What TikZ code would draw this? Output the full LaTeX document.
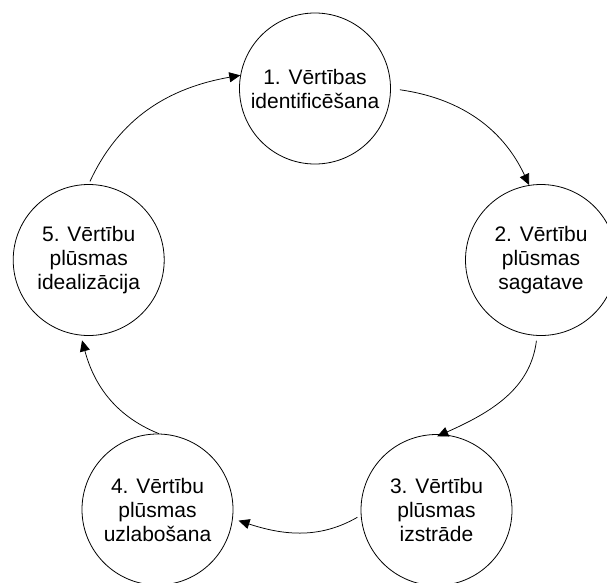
\documentclass[tikz,border=0pt]{standalone}
\usepackage{fontspec}
\setmainfont{Liberation Sans}
\usetikzlibrary{arrows.meta}
\begin{document}
\begin{tikzpicture}[x=1pt,y=1pt,
  stage/.style={circle,draw=black,line width=0.8pt,minimum size=151pt,inner sep=0pt,
    align=center,font=\fontsize{21}{24}\selectfont},
  arr/.style={line width=0.75pt,-{Triangle[length=11pt,width=10pt]}}]
\path[use as bounding box,clip] (0,0) rectangle (607,-582);
\node[stage] (c1) at (315,-88.5) {1. Vērtības\\identificēšana};
\node[stage] (c2) at (541,-260) {2. Vērtību\\plūsmas\\sagatave};
\node[stage] (c3) at (436.5,-510) {3. Vērtību\\plūsmas\\izstrāde};
\node[stage] (c4) at (157.5,-509.5) {4. Vērtību\\plūsmas\\uzlabošana};
\node[stage] (c5) at (88.7,-260) {5. Vērtību\\plūsmas\\idealizācija};
\draw[arr,shorten <=3pt] (c5.90) to[out=65,in=190] (c1.170);
\draw[arr,shorten <=9pt] (c1.0) to[out=-8,in=115] (c2.99);
\draw[arr,shorten <=5pt,shorten >=-5pt] (c2.267) to[out=263,in=24] (c3.86);
\draw[arr,shorten <=4pt,shorten >=6pt] (c3.184) to[out=210,in=-18] (c4.-7);
\draw[arr,shorten >=5pt] (c4.89) to[out=158,in=285] (c5.264);
\end{tikzpicture}
\end{document}
